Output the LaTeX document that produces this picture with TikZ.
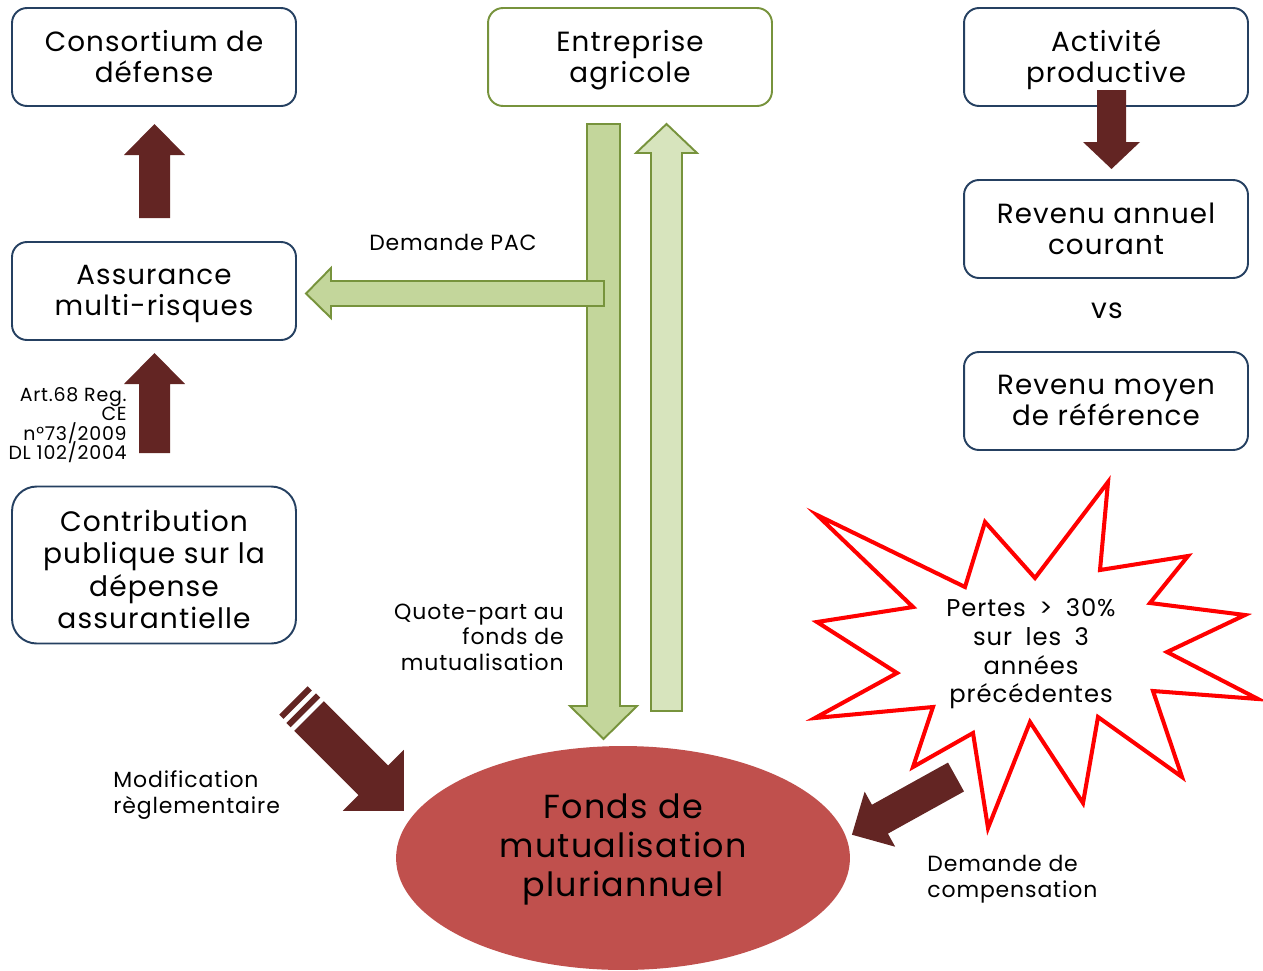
\documentclass[tikz,border=0pt]{standalone}
\usepackage{fontspec}
\setmainfont{Poppins}[LetterSpace=4]
\newfontfamily\starfont{Poppins}[LetterSpace=4, WordSpace=1.8]
\usepackage{tikz}
\usetikzlibrary{shapes.geometric}

\definecolor{boxblue}{RGB}{37,64,97}
\definecolor{greenline}{RGB}{119,147,60}
\definecolor{greenfill}{RGB}{195,214,155}
\definecolor{greenlight}{RGB}{215,228,189}
\definecolor{arrowred}{RGB}{99,37,35}
\definecolor{fondsred}{RGB}{192,80,77}

\tikzset{
  box/.style={draw=boxblue, fill=white, line width=1.1pt, rounded corners=8.5pt,
    minimum width=5.68cm, minimum height=1.96cm, inner sep=0pt},
  boxtext/.style={align=center, inner sep=0pt, font=\fontsize{15.8}{17.6}\selectfont,
    execute at begin node=\strut, execute at end node=\strut, yshift=-0.08cm},
  smalltext/.style={inner sep=0pt, font=\fontsize{12.5}{14.5}\selectfont},
  greenarrow/.style={draw=greenline, line width=1.1pt, line join=miter},
  redarrow/.style={fill=arrowred},
}

\begin{document}
\begin{tikzpicture}[x=0.02cm, y=-0.02cm]
\useasboundingbox (0,0) rectangle (1263,970);

% boxes
\node[box, label={[boxtext, name=consortiumtext]center:Consortium de\\défense}] (consortium) at (154,57) {};
\node[box, draw=greenline, label={[boxtext, name=entreprisetext]center:Entreprise\\agricole}] (entreprise) at (630,57) {};
\node[box, label={[boxtext, name=activitetext]center:Activité\\productive}] (activite) at (1106,57) {};
\node[box, label={[boxtext, name=assurancetext]center:Assurance\\multi-risques}] (assurance) at (154,291) {};
\node[box, label={[boxtext, name=revenutext]center:Revenu annuel\\courant}] (revenu) at (1106,229) {};
\node[box, label={[boxtext, name=moyentext]center:Revenu moyen\\de référence}] (moyen) at (1106,401) {};
\node[box, minimum height=3.14cm, rounded corners=14pt,
  label={[boxtext, name=contributiontext, font=\fontsize{16}{18.4}\selectfont, yshift=-0.1cm]center:Contribution\\publique sur la\\dépense\\assurantielle}]
  (contribution) at (154,565) {};
\node[font=\fontsize{16}{18}\selectfont, inner sep=0pt] (vs) at (1107,311) {vs};

% fonds
\node[ellipse, fill=fondsred, minimum width=9.08cm, minimum height=4.48cm] (fonds) at (623,858) {};
\node[align=center, inner sep=0pt, font=\fontsize{19}{22.1}\selectfont,
  execute at begin node=\strut, execute at end node=\strut]
  (fondstext) at (623,851) {Fonds de\\mutualisation\\pluriannuel};

% green arrows
\draw[greenarrow, fill=greenfill] (587,124) -- (620,124) -- (620,706) -- (637,706)
  -- (603.5,739) -- (570,706) -- (587,706) -- cycle;
\draw[greenarrow, fill=greenfill] (604,281) -- (331,281) -- (331,268) -- (306,293.5)
  -- (331,318) -- (331,306) -- (604,306) -- cycle;
\draw[greenarrow, fill=greenlight] (651,711) -- (651,153) -- (636,153) -- (666.5,124)
  -- (697,153) -- (682,153) -- (682,711) -- cycle;

% dark arrows
\fill[redarrow] (139,218) -- (139,155) -- (124,155) -- (154.5,124) -- (185,155)
  -- (170,155) -- (170,218) -- cycle;
\fill[redarrow] (139,453) -- (139,384) -- (124,384) -- (154.5,353) -- (185,384)
  -- (170,384) -- (170,453) -- cycle;
\fill[redarrow] (1097,90) -- (1126,90) -- (1126,142) -- (1140,142) -- (1111.5,169)
  -- (1083,142) -- (1097,142) -- cycle;
\begin{scope}[shift={(309,716)}, rotate=-45]
  \fill[redarrow] (0,-21) -- (91,-21) -- (91,-43) -- (134,0) -- (91,43) -- (91,21) -- (0,21) -- cycle;
  \fill[redarrow] (-11,-21) rectangle (-5,21);
  \fill[redarrow] (-22,-20) rectangle (-16,20);
\end{scope}
\begin{scope}[shift={(956,777)}, rotate=-151]
  \fill[redarrow] (0,-16.5) -- (87,-16.5) -- (87,-31.5) -- (119,0) -- (87,31.5) -- (87,16.5) -- (0,16.5) -- cycle;
\end{scope}

% star
\draw[red, line width=2.3pt, line join=miter] (817,515) -- (965,587) -- (985,522) -- (1035,578)
  -- (1108,482) -- (1100,570) -- (1188,556) -- (1150,603) -- (1245,615) -- (1167,652)
  -- (1258,699) -- (1153,691) -- (1182,777) -- (1098,717) -- (1083,803) -- (1030,722)
  -- (988,828) -- (973,733) -- (913,767) -- (933,707) -- (815,718) -- (897,673)
  -- (817,622) -- (913,607) -- cycle;
\node[align=center, inner sep=0pt, font=\starfont\fontsize{13.8}{16.4}\selectfont,
  execute at begin node=\strut, execute at end node=\strut]
  (pertes) at (1031,655) {Pertes > 30\%\\sur les 3\\années\\précédentes};

% labels
\node[smalltext] (pac) at (453,242) {Demande PAC};
\node[smalltext, anchor=east, align=right] (quote) at (564,637) {Quote-part au\\fonds de\\mutualisation};
\node[smalltext, anchor=west, align=left] (modif) at (113,795) {Modification\\règlementaire};
\node[smalltext, anchor=west, align=left] (compensation) at (927,879) {Demande de\\compensation};
\node[smalltext, anchor=east, align=right, font=\fontsize{10.8}{11}\selectfont,
  execute at begin node={\lineskiplimit=-20pt\lineskip=0pt}] (art) at (127,425)
  {Art.68 Reg.\\CE\\n°73/2009\\DL 102/2004};
\end{tikzpicture}
\end{document}
